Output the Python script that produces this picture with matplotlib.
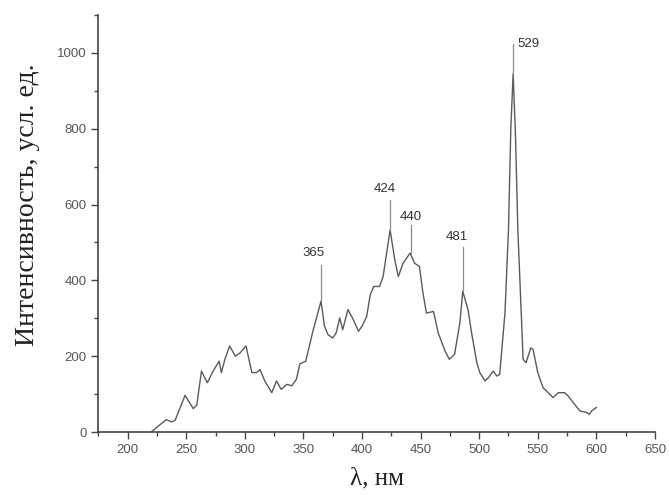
import numpy as np
import matplotlib
matplotlib.use('Agg')
import matplotlib.pyplot as plt
import matplotlib.ticker as mticker

# spectrum
wavelength = [220, 223, 233, 237.5, 240.5, 249, 256, 259, 263, 268, 273, 278, 280, 283,
              287, 292, 296, 301, 306, 310, 313, 317, 323, 327, 331, 336, 340, 344, 347,
              352, 358, 365, 368, 371, 375, 378, 381, 383.5, 388, 392.5, 397, 400, 404,
              407, 410, 415, 418, 424, 428, 431, 435, 441, 445, 449, 452, 455, 461, 465,
              471, 474.5, 479, 483.5, 486, 490.5, 493.5, 498, 500.5, 505, 508, 512, 515,
              517.5, 522, 525, 527, 529, 531, 533, 537.5, 540, 544, 546, 550, 554.5, 559,
              563, 567.5, 573, 576, 581.5, 586, 591.5, 594, 596, 600]
intensity = [0, 8, 33, 27, 31, 97, 62, 71, 161, 130, 161, 187, 157, 192,
             227, 200, 209, 227, 157, 157, 165, 135, 104, 135, 113, 126, 122, 139, 180,
             187, 265, 345, 279, 257, 248, 262, 301, 270, 323, 297, 266, 279, 305,
             362, 384, 384, 410, 533, 454, 410, 445, 472, 445, 437, 367, 314, 318, 262,
             213, 192, 205, 288, 371, 323, 262, 183, 157, 135, 144, 161, 148,
             152, 314, 533, 800, 945, 780, 533, 192, 183, 222, 218, 157, 117, 104,
             91, 104, 104, 95, 73, 56, 52, 47, 56, 65]

# peak labels: text, x of line, line top, label position
peak_labels = ['365', '424', '440', '481', '529']
peak_x = [364.7, 423.8, 441.5, 486, 529]
peak_y = [345, 533, 472, 371, 945]
line_top = [441, 612, 546, 489, 1023]
label_x = [359, 419, 441.5, 481, 533]
label_y = [472, 640, 568, 514, 1024]

fig = plt.figure(figsize=(6.69, 4.95), dpi=100)
ax = fig.add_axes([0.147, 0.127, 0.832, 0.843])

ax.plot(wavelength, intensity, color='#5a5a5a', linewidth=1.0)

for i in range(len(peak_labels)):
    ax.plot([peak_x[i], peak_x[i]], [peak_y[i], line_top[i]], color='#8a8a8a', linewidth=0.9)
    ax.text(label_x[i], label_y[i], peak_labels[i], fontsize=9.5, color='#333333',
            ha='left' if i == 4 else 'center', va='center', family='Liberation Sans')

ax.set_xlim(175, 650)
ax.set_ylim(0, 1100)
ax.xaxis.set_major_locator(mticker.MultipleLocator(50))
ax.xaxis.set_minor_locator(mticker.MultipleLocator(25))
ax.yaxis.set_major_locator(mticker.FixedLocator([0, 200, 400, 600, 800, 1000]))
ax.yaxis.set_minor_locator(mticker.MultipleLocator(100))

for side in ['top', 'right']:
    ax.spines[side].set_visible(False)
for side in ['left', 'bottom']:
    ax.spines[side].set_color('#444444')
    ax.spines[side].set_linewidth(1.2)

ax.tick_params(which='both', direction='out', colors='#444444', width=1.0)
ax.tick_params(which='major', length=5, labelsize=9.5, labelcolor='#555555')
ax.tick_params(which='minor', length=3)
for lbl in ax.get_xticklabels() + ax.get_yticklabels():
    lbl.set_family('Liberation Sans')

ax.set_ylabel('Интенсивность, усл. ед.', fontsize=20, family='Liberation Serif', color='#222222')
ax.yaxis.set_label_coords(-0.104, 0.545)
ax.set_xlabel('λ, нм', fontsize=18, family='Liberation Serif', color='#222222', labelpad=8)

fig.savefig('out.png', dpi=100)
